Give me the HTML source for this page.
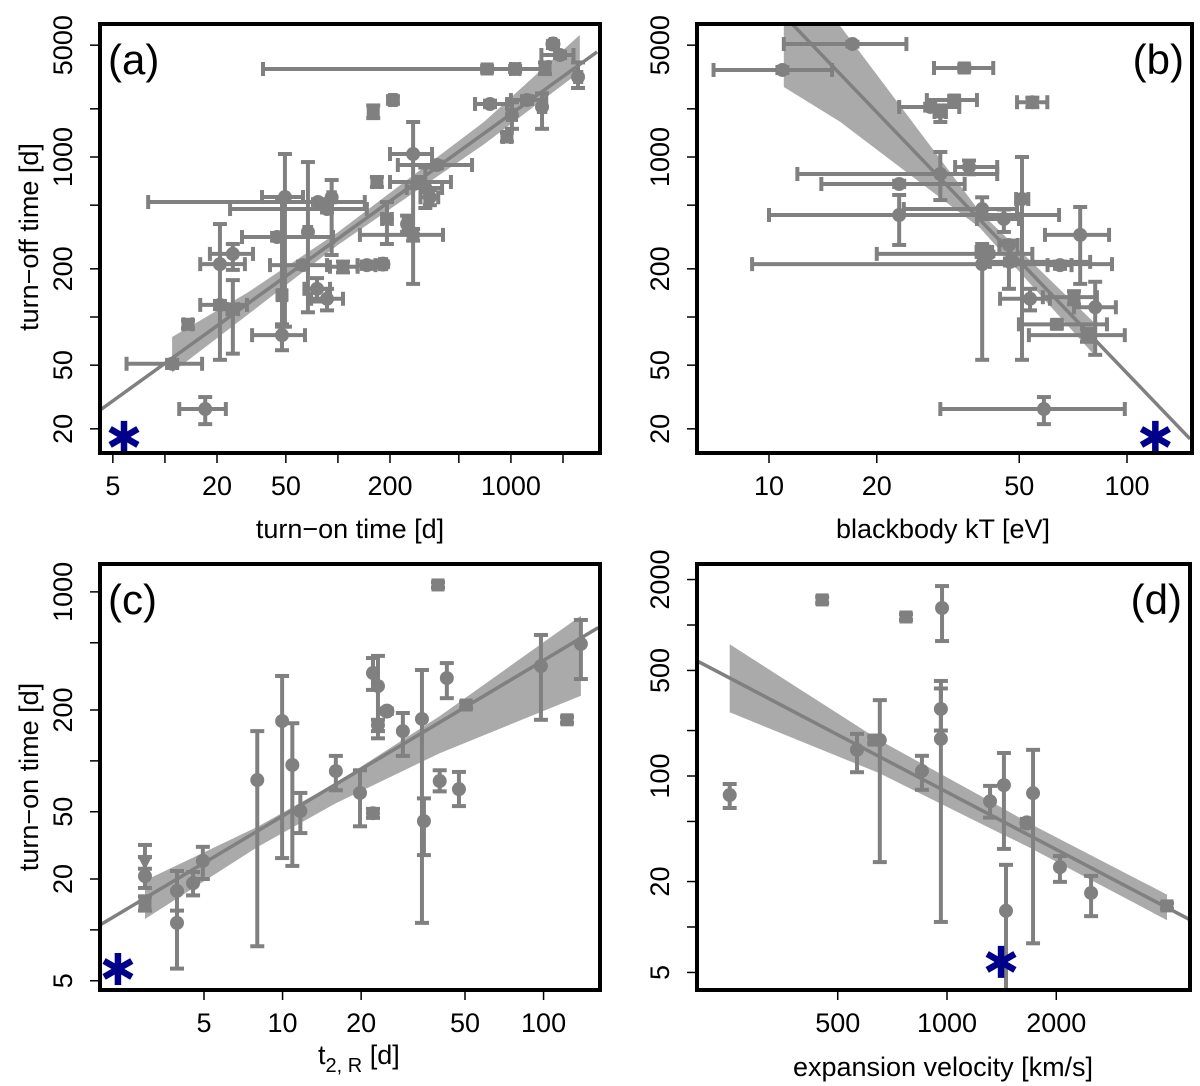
<!DOCTYPE html>
<html><head><meta charset="utf-8">
<style>
html,body{margin:0;padding:0;background:#fff;}
svg{display:block;font-family:"Liberation Sans",Arial,sans-serif;}
</style></head>
<body>
<svg id="fig" width="1200" height="1086" viewBox="0 0 1200 1086" xmlns="http://www.w3.org/2000/svg">
<rect x="0" y="0" width="1200" height="1086" fill="#fff"/>
</svg>
<script>
// ---------- Panel (a): turn-off vs turn-on ----------
const aX    = [11,17.1,13.6,20.8,24.7,20.8,24.7,47.5,47.5,49.4,44.5,76.7,86.5,92,67.1,62.8,75.7,86.5,107,147,182,160,208,192,272,272,251,374,298,168,728,1057,1574,1750,1923,2443,757,1239,1513,1014,948,320,340];
const aXlo  = [6,12.1,12.8,16,18.2,16,23,31.9,45,36.4,27.9,8,23.8,88,64,40.5,64,70,90,130,175,155,200,180,200,134,240,222,200,160,36.9,1000,1500,1700,1500,2350,620,1000,1450,960,900,250,300];
const aXhi  = [16.4,22.5,14.4,29,32.3,29.8,26.5,64.5,50,62.8,93.7,143,147,96,70,86.5,90,107,130,165,190,166,216,205,350,405,262,596,450,176,1550,1120,1650,1800,2300,2550,950,1600,1580,1070,1000,400,380];
const aY    = [51,26.6,90,214,248,119,112,77,137,562,316,523,473,560,340,211,150,130,206,211,214,1911,2270,410,1044,326,381,891,698,698,3548,3548,3652,5082,4340,3162,2144,2270,2054,1832,1334,640,560];
const aYlo  = [48,21.4,85,54,197,112,59,62,87,87,300,502,450,244,107,200,125,110,190,200,205,1750,2150,286,161,300,340,850,650,650,3400,3400,3300,4800,4150,2700,2050,2150,1500,1500,1250,480,500];
const aYhi  = [54,31.6,95,381,286,126,170,90,546,1044,335,545,500,718,930,222,175,150,222,222,222,2100,2400,523,1655,355,430,935,750,750,3700,3700,3900,5300,4550,3900,2250,2400,2500,2200,1420,860,620];
const aMark = ['c','c','s','c','c','c','c','c','s','c','c','c','c','c','c','c','c','c','c','c','h','s','c','c','c','c','c','c','c','s','s','c','s','h','c','c','c','c','c','c','s','c','c'];
const aFitX = [4.2,3150];
const aFitY = [26.1,4540];
const aBandX  = [11,30,100,700,2500];
const aBandLo = [45,103,282,1202,3396];
const aBandHi = [75,142,339,1660,5794];
const aStar = [5.8,17.8];
const aXTicks = [5,10,20,50,100,200,500,1000,2000];
const aXTickLabels = ['5','','20','50','','200','','1000',''];
const aYTicks = [20,50,100,200,500,1000,2000,5000];
const aYTickLabels = ['20','50','','200','','1000','','5000'];

// ---------- Panel (b): turn-off vs blackbody kT ----------
const bX    = [17.1,10.9,35.1,28.2,32.9,30.1,54.4,30.1,23.1,36.2,23.1,39.4,50.9,45.3,74,39.4,41,47.1,65,53.6,71.1,81.5,63.7,77.3,58.6,39.9,46.8];
const bXlo  = [11,7,28.9,23.1,27.6,29,49.3,12,14,33.1,10,23.8,49,38.1,59,8.97,20,41.4,60,44.2,58.2,71.1,49.9,53.2,30.1,38,44];
const bXhi  = [24.2,15,42.3,34,38.1,31.2,59.9,43.4,35.2,43.4,64.6,49.3,53,49.9,89.1,90.8,54.4,78.9,70,60.9,82.4,93.1,87.9,98.6,98.6,42,49.5];
const bY    = [5082,3499,3600,2054,2270,1911,2200,783,678,866,434,473,546,410,326,214,248,221,211,130,133,115,90,77,26.6,255,282];
const bYlo  = [4900,3350,3450,1950,2150,1655,2050,538,650,780,282,420,54,340,161,54,240,210,200,110,120,58,85,70,21.4,235,150];
const bYhi  = [5250,3650,3750,2150,2400,2100,2350,1075,710,950,579,560,1000,470,487,286,256,232,222,150,145,166,95,84,31.6,275,300];
const bMark = ['c','c','s','c','s','c','c','c','c','c','c','c','c','c','c','c','c','c','c','c','s','c','s','c','c','c','c'];
const bFitX = [9,150];
const bFitY = [12270,17.3];
const bBandX  = [11,15.8,38.8,81.5];
const bBandLo = [2738,1660,361,57];
const bBandHi = [21500,6600,455,91];
const bStar = [120,17.8];
const bXTicks = [10,20,50,100];
const bXTickLabels = ['10','20','50','100'];
const bYTicks = [20,50,100,200,500,1000,2000,5000];
const bYTickLabels = ['20','50','','200','','1000','','5000'];

// ---------- Panel (c): turn-on vs t2,R ----------
const cX    = [2.97,2.97,2.97,3.94,3.94,4.54,4.95,8.0,9.96,10.9,11.7,16.0,19.8,22.2,22.2,23.2,23.2,25.1,28.9,34.2,34.8,39.4,42.6,40,47.4,50.5,97.7,123,139];
const cY    = [20.8,24.9,14.4,17,11,18.9,25.6,77,172,94.6,50.5,87,64.6,49,331,277,163,197,150,177,44,1099,309,76,68,214,364,175,492];
const cYlo  = [17.7,23,13,13,5.9,16,20,8.0,26.6,23.9,37.4,67,41,46,263,136,150,190,107,11,27.7,1060,235,66,54,205,175,168,305];
const cYhi  = [31.8,27,15.8,22.3,17,22,31,150,318,167,64.6,107,88,52,406,418,175,204,192,345,60,1140,379,88,86,223,556,182,682];
const cMark = ['c','t','s','c','c','c','c','c','c','c','c','c','c','c','c','c','c','h','c','c','c','s','c','c','c','s','c','s','c'];
const cFitX = [2.0,162];
const cFitY = [10.7,614];
const cBandX  = [2.97,8,16,40,139];
const cBandLo = [11.6,30.9,56.2,111,243];
const cBandHi = [19.6,40.7,74.1,184,723];
const cStar = [2.34,5.87];
const cXTicks = [5,10,20,50,100];
const cXTickLabels = ['5','10','20','50','100'];
const cYTicks = [5,10,20,50,100,200,500,1000];
const cYTickLabels = ['5','','20','50','','200','','1000'];

// ---------- Panel (d): turn-on vs expansion velocity ----------
const dX    = [252,453,771,969,565,630,653,853,962,962,1314,1435,1454,1660,1726,2047,2494,4036];
const dY    = [74.8,1466,1130,1296,149,173,173,108,278,176,68,87,12.8,48.9,77,24.9,16.8,13.8];
const dYlo  = [61.4,1400,1080,783,106,165,26.9,81,200,10.8,53,32.9,2,46,7.8,19.9,11.8,13.2];
const dYhi  = [88.5,1530,1180,1811,190,181,318,136,380,426,86,142,25.8,52,149,29.5,21.8,14.4];
const dMark = ['c','s','s','c','c','s','c','c','c','c','c','c','c','h','c','c','c','s'];
const dFitX = [205,4730];
const dFitY = [578,11.0];
const dBandX  = [252,653,1314,1692,4036];
const dBandLo = [264,104,45.1,33.5,11.1];
const dBandHi = [745,172,68.2,48.4,16.4];
const dStar = [1409,5.87];
const dXTicks = [500,1000,2000];
const dXTickLabels = ['500','1000','2000'];
const dYTicks = [5,10,20,50,100,200,500,1000,2000];
const dYTickLabels = ['5','','20','','100','','500','','2000'];

const NS = 'http://www.w3.org/2000/svg';
const svg = document.getElementById('fig');
const L = Math.log10;
const GRAY = '#808080';

function mk(tag, attrs, parent){
  const e = document.createElementNS(NS, tag);
  for (const k in attrs) e.setAttribute(k, attrs[k]);
  (parent || svg).appendChild(e);
  return e;
}

function panel(p){
  const g = mk('g', {});
  
  
  const [x0,y0,x1,y1] = p.box;
  const clipId = 'clip-' + p.id;
  const cp = mk('clipPath', {id: clipId}, g);
  mk('rect', {x:x0, y:y0, width:x1-x0, height:y1-y0}, cp);
  const plot = mk('g', {'clip-path':'url(#'+clipId+')'}, g);
  
  

  let pts = [];
  for (let i=0;i<p.bandX.length;i++) pts.push(p.sx(p.bandX[i]).toFixed(1)+','+p.sy(p.bandHi[i]).toFixed(1));
  for (let i=p.bandX.length-1;i>=0;i--) pts.push(p.sx(p.bandX[i]).toFixed(1)+','+p.sy(p.bandLo[i]).toFixed(1));
  const band = mk('polygon', {points: pts.join(' '), fill:'#aaaaaa'}, plot);
  
  

  const fit = mk('line', {x1:p.sx(p.fitX[0]), y1:p.sy(p.fitY[0]), x2:p.sx(p.fitX[1]), y2:p.sy(p.fitY[1]), stroke:GRAY, 'stroke-width':3.5}, plot);
  
  

  for (let i=0;i<p.x.length;i++){
    const pg = mk('g', {stroke:GRAY, fill:GRAY, 'stroke-width':4}, plot);
    
    
    const cx = p.sx(p.x[i]), cy = p.sy(p.y[i]);
    const cap = 7;
    if (p.xlo){
      const a = p.sx(p.xlo[i]), b = p.sx(p.xhi[i]);
      if (b - a > 2){
        mk('line', {x1:a, y1:cy, x2:b, y2:cy}, pg);
        mk('line', {x1:a, y1:cy-cap, x2:a, y2:cy+cap}, pg);
        mk('line', {x1:b, y1:cy-cap, x2:b, y2:cy+cap}, pg);
      }
    }
    const ya = p.sy(p.ylo[i]), yb = p.sy(p.yhi[i]);
    if (ya - yb > 2){
      mk('line', {x1:cx, y1:ya, x2:cx, y2:yb}, pg);
      mk('line', {x1:cx-cap, y1:ya, x2:cx+cap, y2:ya}, pg);
      mk('line', {x1:cx-cap, y1:yb, x2:cx+cap, y2:yb}, pg);
    }
    const m = p.mark[i];
    if (m === 's') mk('rect', {x:cx-6.5, y:cy-6.5, width:13, height:13, stroke:'none'}, pg);
    else if (m === 't') mk('polygon', {points:(cx-7)+','+(cy-6)+' '+(cx+7)+','+(cy-6)+' '+cx+','+(cy+7), stroke:'none'}, pg);
    else if (m === 'h') mk('circle', {cx:cx, cy:cy, r:7.5, stroke:'none'}, pg);
    else mk('circle', {cx:cx, cy:cy, r:7, stroke:'none'}, pg);
  }

  const sx = p.sx(p.star[0]), sy = p.sy(p.star[1]);
  const st = mk('g', {stroke:'#00008b', 'stroke-width':6.5, 'stroke-linecap':'butt'}, g);
  
  
  for (const ang of [90, 30, -30]){
    const r = 16, t = ang*Math.PI/180;
    mk('line', {x1:sx - r*Math.cos(t), y1:sy - r*Math.sin(t), x2:sx + r*Math.cos(t), y2:sy + r*Math.sin(t)}, st);
  }

  const fr = mk('rect', {x:x0, y:y0, width:x1-x0, height:y1-y0, fill:'none', stroke:'#000', 'stroke-width':4}, g);
  
  

  const xa = mk('g', {}, g);
  
  
  for (let i=0;i<p.xTicks.length;i++){
    const tx = p.sx(p.xTicks[i]);
    mk('line', {x1:tx, y1:y1+2, x2:tx, y2:y1+10, stroke:'#000', 'stroke-width':1.5}, xa);
    if (p.xTickLabels[i]){
      const t = mk('text', {x:tx, y:y1+42, 'text-anchor':'middle', 'font-size':27, fill:'#000'}, xa);
      t.textContent = p.xTickLabels[i];
      
      
    }
  }
  const ya2 = mk('g', {}, g);
  
  
  for (let i=0;i<p.yTicks.length;i++){
    const ty = p.sy(p.yTicks[i]);
    mk('line', {x1:x0-10, y1:ty, x2:x0-2, y2:ty, stroke:'#000', 'stroke-width':1.5}, ya2);
    if (p.yTickLabels[i]){
      const bx = x0 - 28;
      const t = mk('text', {x:bx, y:ty, 'text-anchor':'middle', 'font-size':27, fill:'#000', transform:'rotate(-90 '+bx+' '+ty+')'}, ya2);
      t.textContent = p.yTickLabels[i];
      
      
    }
  }
  const lt = mk('text', {x:p.letterRight ? x1-8 : x0+8, y:y0+50, 'text-anchor':p.letterRight?'end':'start', 'font-size':42, fill:'#000'}, g);
  lt.textContent = '(' + p.id + ')';
  
  
  return g;
}

const yA = v => 157 + 160*(3 - L(v));
panel({id:'a', box:[100,24,600,453], sx:v=>217+173*(L(v)-L(20)), sy:yA,
  x:aX, xlo:aXlo, xhi:aXhi, y:aY, ylo:aYlo, yhi:aYhi, mark:aMark,
  fitX:aFitX, fitY:aFitY, bandX:aBandX, bandLo:aBandLo, bandHi:aBandHi, star:aStar,
  xTicks:aXTicks, xTickLabels:aXTickLabels, yTicks:aYTicks, yTickLabels:aYTickLabels, letterRight:false});
panel({id:'b', box:[697,24,1192,453], sx:v=>769+358*(L(v)-1), sy:yA,
  x:bX, xlo:bXlo, xhi:bXhi, y:bY, ylo:bYlo, yhi:bYhi, mark:bMark,
  fitX:bFitX, fitY:bFitY, bandX:bBandX, bandLo:bBandLo, bandHi:bBandHi, star:bStar,
  xTicks:bXTicks, xTickLabels:bXTickLabels, yTicks:bYTicks, yTickLabels:bYTickLabels, letterRight:true});
panel({id:'c', box:[100,564,600,990], sx:v=>204+261*(L(v)-L(5)), sy:v=>710+169*(L(200)-L(v)),
  x:cX, y:cY, ylo:cYlo, yhi:cYhi, mark:cMark,
  fitX:cFitX, fitY:cFitY, bandX:cBandX, bandLo:cBandLo, bandHi:cBandHi, star:cStar,
  xTicks:cXTicks, xTickLabels:cXTickLabels, yTicks:cYTicks, yTickLabels:cYTickLabels, letterRight:false});
panel({id:'d', box:[697,564,1190,990], sx:v=>947+363*(L(v)-3), sy:v=>776+151*(2-L(v)),
  x:dX, y:dY, ylo:dYlo, yhi:dYhi, mark:dMark,
  fitX:dFitX, fitY:dFitY, bandX:dBandX, bandLo:dBandLo, bandHi:dBandHi, star:dStar,
  xTicks:dXTicks, xTickLabels:dXTickLabels, yTicks:dYTicks, yTickLabels:dYTickLabels, letterRight:true});

function title(txt, x, y, rot, name){
  const t = mk('text', {x:x, y:y, 'text-anchor':'middle', 'font-size':27, fill:'#000'});
  if (rot) t.setAttribute('transform', 'rotate(-90 '+x+' '+y+')');
  t.textContent = txt;
  
  
  return t;
}
title('turn\u2212on time [d]', 350, 538, false, 'x-axis-title-a');
title('turn\u2212off time [d]', 38, 237, true, 'y-axis-title-a');
title('blackbody kT [eV]', 943, 538, false, 'x-axis-title-b');
title('turn\u2212on time [d]', 38, 777, true, 'y-axis-title-c');
title('expansion velocity [km/s]', 943, 1076, false, 'x-axis-title-d');
const ct = mk('text', {x:318, y:1064, 'font-size':27, fill:'#000'});


const t1 = mk('tspan', {}, ct); t1.textContent = 't';
const t2 = mk('tspan', {dy:8, 'font-size':20}, ct); t2.textContent = '2, R';
const t3 = mk('tspan', {dy:-8}, ct); t3.textContent = ' [d]';
</script>
</body></html>
